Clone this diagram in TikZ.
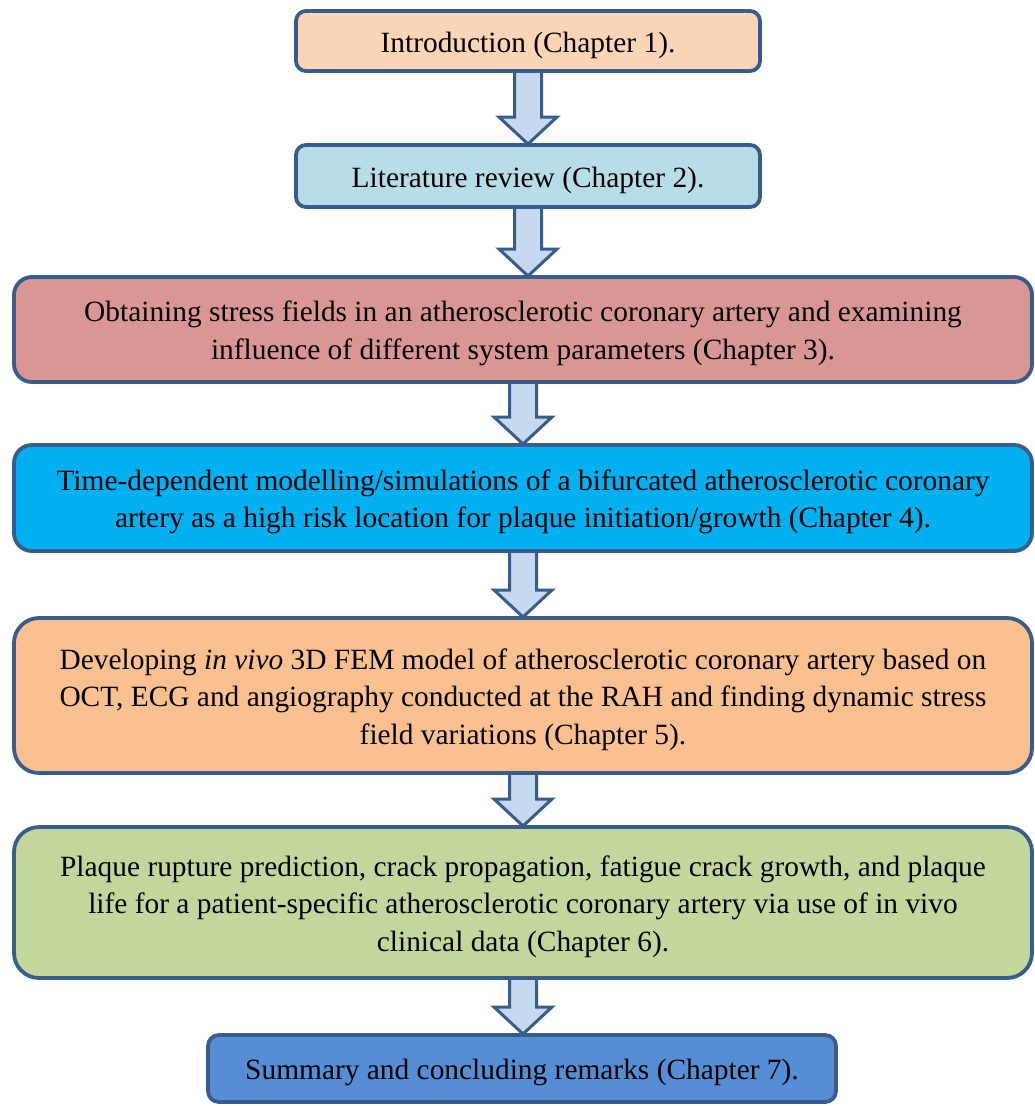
\documentclass[tikz,border=0pt]{standalone}
\usepackage{fontspec}
\setmainfont{Liberation Serif}
\usetikzlibrary{calc,backgrounds}
\definecolor{bordercol}{HTML}{385D8A}
\definecolor{arrowfill}{HTML}{C6D9F1}
\definecolor{c1}{HTML}{FBD5B5}
\definecolor{c2}{HTML}{B7DDE8}
\definecolor{c3}{HTML}{D99694}
\definecolor{c4}{HTML}{00B0F0}
\definecolor{c5}{HTML}{FAC090}
\definecolor{c6}{HTML}{C3D69B}
\definecolor{c7}{HTML}{558ED5}
\newcommand\topstrut{\rule{0pt}{28.5pt}}
\newcommand\blockarr[2]{%
  \path[arrowstyle] let \p1=(#1.south), \p2=(#2.north) in
    (\x1-13.5pt,\y1) -- (\x1-13.5pt,\y2+28pt) -- (\x1-29pt,\y2+28pt) --
    (\x1,\y2+1pt) -- (\x1+29pt,\y2+28pt) -- (\x1+13.5pt,\y2+28pt) --
    (\x1+13.5pt,\y1) -- cycle;}
\begin{document}
\begin{tikzpicture}[x=1pt,y=-1pt,
  box/.style={draw=bordercol, line width=3.8pt, align=center, inner sep=0pt,
    outer sep=0pt, font=\fontsize{29.4}{37.5}\selectfont},
  arrowstyle/.style={draw=bordercol, fill=arrowfill, line width=3pt}]
\useasboundingbox (0,0) rectangle (1034,1106);
\node[box, fill=c1, rounded corners=10pt, minimum width=464pt, minimum height=60pt]
  (n1) at (528,41) {\topstrut Introduction (Chapter 1).};
\node[box, fill=c2, rounded corners=10pt, minimum width=464pt, minimum height=62pt]
  (n2) at (528,176) {\topstrut Literature review (Chapter 2).};
\node[box, fill=c3, rounded corners=18pt, minimum width=1018pt, minimum height=105pt]
  (n3) at (523,329.5) {\topstrut Obtaining stress fields in an atherosclerotic coronary artery and examining\\influence of different system parameters (Chapter 3).};
\node[box, fill=c4, rounded corners=18pt, minimum width=1018pt, minimum height=106pt]
  (n4) at (523,498) {\topstrut Time-dependent modelling/simulations of a bifurcated atherosclerotic coronary\\artery as a high risk location for plaque initiation/growth (Chapter 4).};
\node[box, fill=c5, rounded corners=25pt, minimum width=1018pt, minimum height=155pt]
  (n5) at (523,695.5) {\topstrut Developing \textit{in vivo} 3D FEM model of atherosclerotic coronary artery based on\\OCT, ECG and angiography conducted at the RAH and finding dynamic stress\\field variations (Chapter 5).};
\node[box, fill=c6, rounded corners=25pt, minimum width=1018pt, minimum height=151pt]
  (n6) at (523,902.5) {\topstrut Plaque rupture prediction, crack propagation, fatigue crack growth, and plaque\\life for a patient-specific atherosclerotic coronary artery via use of in vivo\\clinical data (Chapter 6).};
\node[box, fill=c7, rounded corners=11pt, minimum width=628pt, minimum height=67pt]
  (n7) at (522,1068.5) {\topstrut Summary and concluding remarks (Chapter 7).};
\begin{scope}[on background layer]
\blockarr{n1}{n2}
\blockarr{n2}{n3}
\blockarr{n3}{n4}
\blockarr{n4}{n5}
\blockarr{n5}{n6}
\blockarr{n6}{n7}
\end{scope}
\end{tikzpicture}
\end{document}
